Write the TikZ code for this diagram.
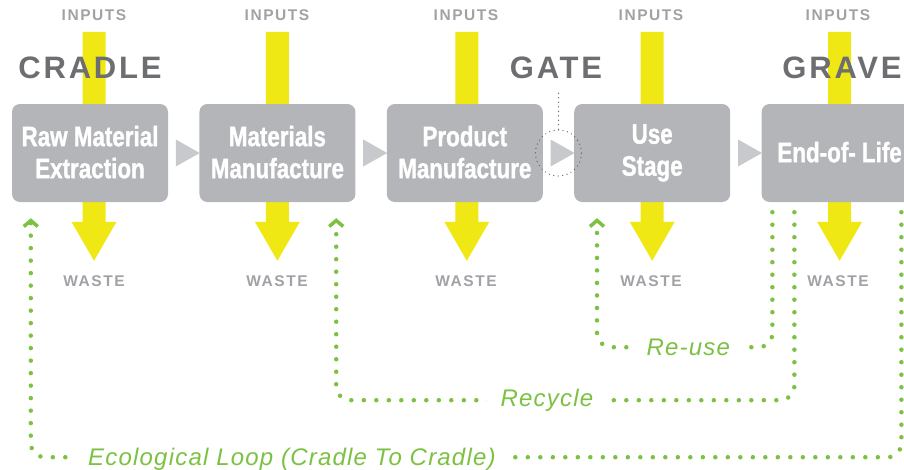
\documentclass[tikz,border=0pt]{standalone}
\usepackage{fontspec}
\setmainfont{Liberation Sans}
\newfontfamily\narrowfont[FakeStretch=0.8, FakeBold=1.2]{Liberation Sans}
\newfontfamily\flowfont[LetterSpace=10]{Liberation Sans}
\newfontfamily\phasefont[LetterSpace=9]{Liberation Sans}
\newfontfamily\loopfont[LetterSpace=5]{Liberation Sans}
\usetikzlibrary{positioning, shapes, arrows.meta, calc}
\usetikzlibrary{backgrounds}

\definecolor{stagegray}{RGB}{179,181,184}
\definecolor{pointergray}{RGB}{200,201,204}
\definecolor{labelgray}{RGB}{160,162,165}
\definecolor{phasegray}{RGB}{109,110,113}
\definecolor{ringgray}{RGB}{95,96,99}
\definecolor{flowyellow}{RGB}{240,232,20}
\definecolor{loopgreen}{RGB}{124,193,66}

\newcommand{\stagestrut}{\rule[-2pt]{0pt}{20pt}}

\begin{document}
\begin{tikzpicture}[x=1pt, y=-1pt,
    stage/.style={fill=stagegray, rounded corners=8pt, minimum width=156pt, minimum height=98pt, inner sep=0pt,
        text=white, align=center, font=\narrowfont\bfseries\fontsize{28}{32}\selectfont},
    pointer/.style={isosceles triangle, isosceles triangle stretches, fill=pointergray, minimum height=24pt, minimum width=27pt, inner sep=0pt},
    flowtext/.style={text=labelgray, inner sep=0pt, font=\flowfont\bfseries\fontsize{15.5}{18}\selectfont},
    phase/.style={text=phasegray, inner sep=0pt, font=\phasefont\bfseries\fontsize{31}{36}\selectfont},
    ring/.style={circle, draw=ringgray, line width=1.3pt, dash pattern=on 0pt off 4.5pt, line cap=round, minimum size=46pt, inner sep=0pt},
    loop/.style={draw=loopgreen, line width=4.5pt, line cap=round, dash pattern=on 0pt off 12.5pt, rounded corners=14pt,
        -{Straight Barb[length=6pt, width=14pt, line width=3.5pt]}},
    looplabel/.style={fill=white, text=loopgreen, inner xsep=14pt, inner ysep=2pt, font=\loopfont\itshape\fontsize{24}{28}\selectfont},
    pics/flowbar/.style={code={
        \fill[flowyellow] (-11.5,-72) -- (11.5,-72) -- (11.5,118) -- (22.5,118) -- (0,157) -- (-22.5,118) -- (-11.5,118) -- cycle;}}
]
    \useasboundingbox (0,0) rectangle (904,469);
    \clip (0,0) rectangle (904,469);

    % Stages
    \node[stage] (raw) at (90,153) {\stagestrut Raw Material\\\stagestrut Extraction};
    \node[stage, right=31pt of raw] (matl) {\stagestrut Materials\\\stagestrut Manufacture};
    \node[stage, right=31pt of matl] (prod) {\stagestrut Product\\\stagestrut Manufacture};
    \node[stage, right=31pt of prod] (use) {\stagestrut Use\\\stagestrut Stage};
    \node[stage, right=31pt of use] (eol) {\stagestrut End-of- Life};

    % Inputs and waste
    \begin{scope}[on background layer]
        \pic at ([xshift=4pt]raw.north) {flowbar};
        \pic at (matl.north) {flowbar};
        \pic at ([xshift=2pt]prod.north) {flowbar};
        \pic at (use.north) {flowbar};
        \pic at (eol.north) {flowbar};
    \end{scope}

    \node[flowtext] (rawin) at (94,15) {INPUTS};
    \node[flowtext] (matlin) at (277,15) {INPUTS};
    \node[flowtext] (prodin) at (466,15) {INPUTS};
    \node[flowtext] (usein) at (651,15) {INPUTS};
    \node[flowtext] (eolin) at (838,15) {INPUTS};

    \node[flowtext] (rawout) at (94,281) {WASTE};
    \node[flowtext] (matlout) at (277,281) {WASTE};
    \node[flowtext] (prodout) at (466,281) {WASTE};
    \node[flowtext] (useout) at (651,281) {WASTE};
    \node[flowtext] (eolout) at (838,281) {WASTE};

    % Pointers between stages
    \node[pointer] (p1) at ($(raw.east)!0.5!(matl.west)$) {};
    \node[pointer] (p2) at ($(matl.east)!0.5!(prod.west)$) {};
    \node[pointer] (p3) at ($(prod.east)!0.5!(use.west)$) {};
    \node[pointer] (p4) at ($(use.east)!0.5!(eol.west)$) {};

    % Phases
    \node[phase] (cradle) at (90,68) {CRADLE};
    \node[phase] (gate) at (556,68) {GATE};
    \node[phase] (grave) at (842,68) {GRAVE};

    \node[ring] (gatering) at (p3) {};
    \draw[ringgray, line width=1.3pt, dash pattern=on 0pt off 4.5pt, line cap=round] (gatering.north) -- ++(0,-37);

    % Loops back
    \coordinate (reusestart) at ($(eol.south west)+(11,10)$);
    \coordinate (recyclestart) at ($(eol.south west)+(33,10)$);
    \coordinate (ecostart) at ($(eol.south west)+(140,10)$);
    \coordinate (reuseend) at ($(use.south west)+(23,16)$);
    \coordinate (recycleend) at ($(matl.south west)+(137,16)$);
    \coordinate (ecoend) at ($(raw.south west)+(19,16)$);

    \draw[loop] (reusestart) |- node[looplabel, pos=0.74] {Re-use} ($(reuseend)+(0,129)$) -- (reuseend);
    \draw[loop] (recyclestart) |- node[looplabel, pos=0.77] {Recycle} ($(recycleend)+(0,182)$) -- (recycleend);
    \draw[loop] (ecostart) |- node[looplabel, pos=0.85, yshift=-2pt] {Ecological Loop (Cradle To Cradle)} ($(ecoend)+(0,239)$) -- (ecoend);
\end{tikzpicture}
\end{document}
